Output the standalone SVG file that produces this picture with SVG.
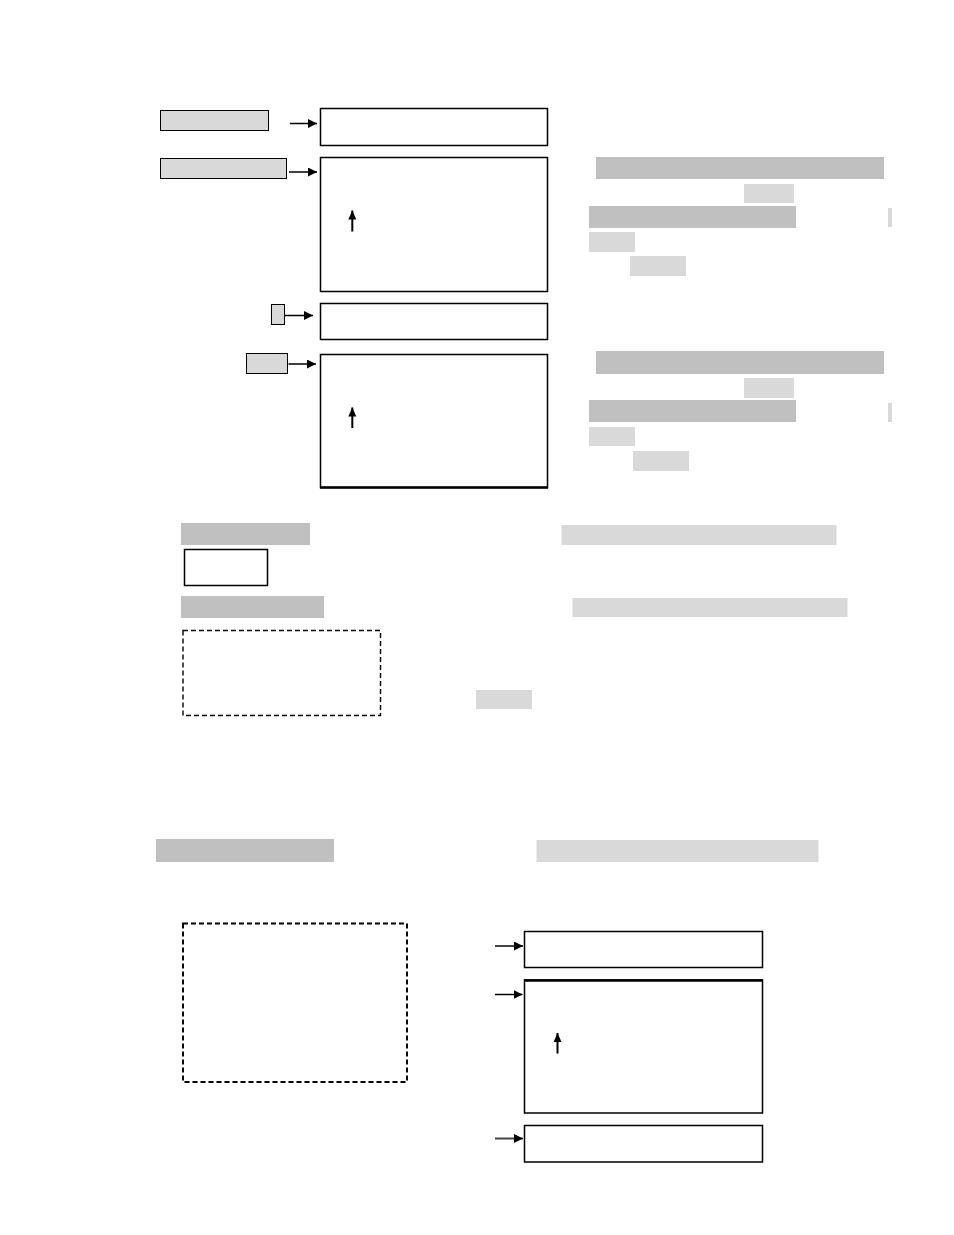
<svg xmlns="http://www.w3.org/2000/svg" width="954" height="1235" viewBox="0 0 954 1235">
<style>
.box{fill:#fff;stroke:#000;stroke-width:1.5}
.tag{fill:#d9d9d9;stroke:#000;stroke-width:1}
.dk{fill:#c0c0c0;stroke:none}
.lt{fill:#d9d9d9;stroke:none}
.dash{fill:none;stroke:#000;stroke-width:1.4;stroke-dasharray:5 3}
.dash2{fill:none;stroke:#000;stroke-width:2;stroke-dasharray:5 3}
.con{stroke:#000;stroke-width:1.5;fill:none}
.con2{stroke:#444;stroke-width:2;fill:none}
.up{stroke:#000;stroke-width:2;fill:none}
</style>
<defs>
<marker id="ah" markerUnits="userSpaceOnUse" markerWidth="10" markerHeight="10" refX="9" refY="4.5" orient="auto">
<path d="M0,0 L9,4.5 L0,9 z" fill="#000"/>
</marker>
<marker id="uh" markerUnits="userSpaceOnUse" markerWidth="11" markerHeight="11" refX="9" refY="4" orient="auto">
<path d="M0,0 L9,4 L0,8 z" fill="#000"/>
</marker>
</defs>
<rect width="954" height="1235" fill="#fff"/>

<g id="tag1"><rect class="tag" x="160.5" y="110.5" width="108" height="20"/></g>
<g id="tag2"><rect class="tag" x="160.5" y="158.5" width="126" height="20"/></g>
<g id="tag3"><rect class="tag" x="271.5" y="304.5" width="13" height="20"/></g>
<g id="tag4"><rect class="tag" x="246.5" y="353.5" width="41" height="20"/></g>

<g id="boxA"><rect class="box" x="320.5" y="108.5" width="227" height="37"/></g>
<g id="boxB"><rect class="box" x="320.5" y="157.5" width="227" height="134"/></g>
<g id="boxC"><rect class="box" x="320.5" y="303.5" width="227" height="36"/></g>
<g id="boxD"><rect class="box" x="320.5" y="354.5" width="227" height="133"/><line x1="320" y1="487.5" x2="548" y2="487.5" stroke="#000" stroke-width="2.5"/></g>

<g id="notes1">
<rect class="dk" x="596" y="157" width="288" height="22"/>
<rect class="lt" x="744" y="184" width="50" height="19"/>
<rect class="dk" x="589" y="206" width="207" height="22"/>
<rect class="lt" x="888" y="208" width="4" height="19"/>
<rect class="lt" x="589" y="232" width="46" height="20"/>
<rect class="lt" x="630" y="256" width="56" height="20"/>
</g>
<g id="notes2">
<rect class="dk" x="596" y="351" width="288" height="23"/>
<rect class="lt" x="744" y="378" width="50" height="20"/>
<rect class="dk" x="589" y="400" width="207" height="22"/>
<rect class="lt" x="888" y="403" width="4" height="19"/>
<rect class="lt" x="589" y="427" width="46" height="19"/>
<rect class="lt" x="633" y="451" width="56" height="20"/>
</g>

<g id="legend">
<rect class="dk" x="181" y="523" width="129" height="22"/>
<rect class="lt" x="561.5" y="525" width="275" height="20"/>
<rect class="box" x="184.5" y="549.5" width="83" height="36"/>
<rect class="dk" x="181" y="596" width="143" height="22"/>
<rect class="lt" x="572.5" y="598" width="275" height="19"/>
<rect class="dash" x="183" y="630.5" width="197.5" height="85"/>
<rect class="lt" x="476" y="690" width="56" height="19"/>
</g>

<g id="section2">
<rect class="dk" x="156" y="839" width="178" height="23"/>
<rect class="lt" x="536.5" y="840" width="282" height="22"/>
</g>

<g id="dashBox"><rect class="dash2" x="183" y="923.5" width="224" height="158.5"/></g>
<g id="boxE"><rect class="box" x="524.5" y="931.5" width="238" height="36"/></g>
<g id="boxF"><rect class="box" x="524.5" y="980" width="238" height="133"/><line x1="524" y1="980.5" x2="763" y2="980.5" stroke="#000" stroke-width="2.5"/></g>
<g id="boxG"><rect class="box" x="524.5" y="1125.5" width="238" height="36.5"/></g>

<g id="connectors">
<line class="con" x1="290" y1="123.5" x2="317" y2="123.5" marker-end="url(#ah)"/>
<line class="con" x1="289" y1="172" x2="317" y2="172" marker-end="url(#ah)"/>
<line class="con" x1="285" y1="315.5" x2="313" y2="315.5" marker-end="url(#ah)"/>
<line class="con" x1="288.5" y1="364" x2="316" y2="364" marker-end="url(#ah)"/>
<line class="con2" x1="495" y1="946" x2="523" y2="946" marker-end="url(#ah)"/>
<line class="con" x1="495" y1="994.5" x2="522.5" y2="994.5" marker-end="url(#ah)"/>
<line class="con2" x1="495" y1="1138.5" x2="523" y2="1138.5" marker-end="url(#ah)"/>
<line class="up" x1="352.3" y1="231.5" x2="352.3" y2="210.5" marker-end="url(#uh)"/>
<line class="up" x1="352.3" y1="428" x2="352.3" y2="407.5" marker-end="url(#uh)"/>
<line class="up" x1="557.5" y1="1053.5" x2="557.5" y2="1033" marker-end="url(#uh)"/>
</g>
</svg>
